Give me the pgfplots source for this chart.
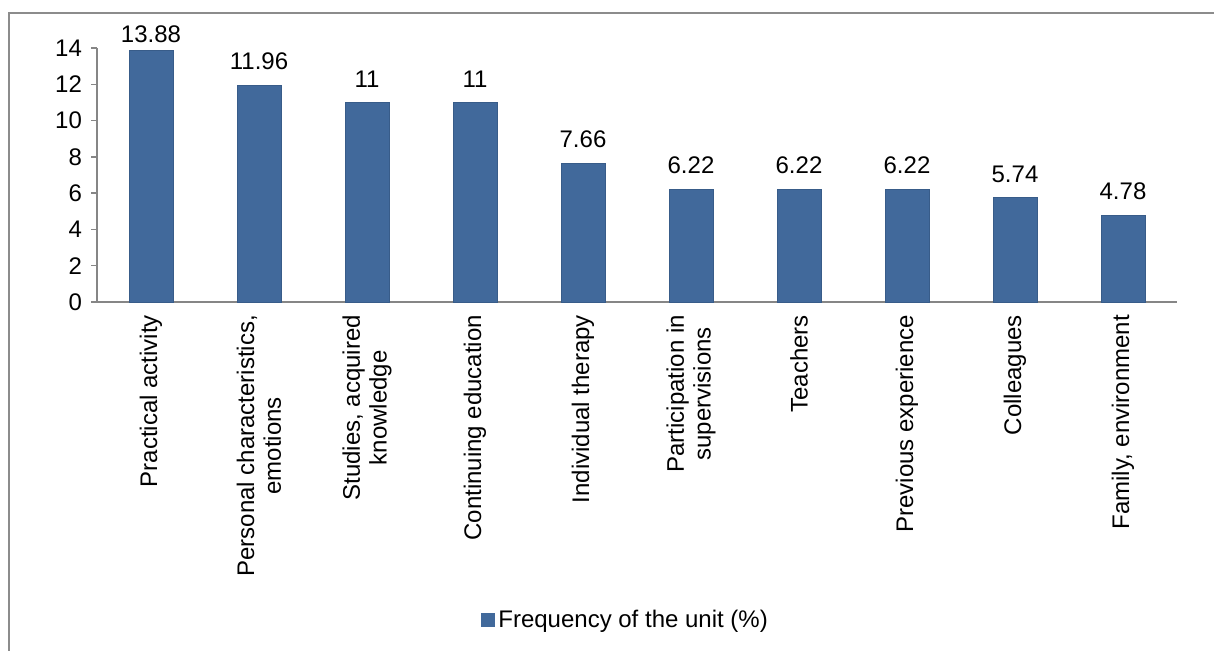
\documentclass[border=0pt]{standalone}
\usepackage{fontspec}
\setmainfont{Liberation Sans}
\usepackage{pgfplots}
\pgfplotsset{compat=1.18}

\definecolor{barblue}{RGB}{65,105,155}
\definecolor{baredge}{RGB}{56,92,137}
\definecolor{axisgray}{RGB}{134,134,134}
\definecolor{framegray}{RGB}{140,140,140}

\begin{document}
\begin{tikzpicture}
\useasboundingbox (0,0) rectangle (607pt,325pt);
% chart area frame
\draw[framegray, line width=0.6pt] (4.5pt,-20pt) -- (4.5pt,318.5pt) -- (640pt,318.5pt);
\begin{axis}[
  at={(48.5pt,174pt)}, anchor=south west,
  scale only axis,
  width=540pt, height=127pt,
  xmin=-0.5, xmax=9.5,
  ymin=0, ymax=14,
  ytick={0,2,...,14},
  xtick={0,...,9},
  xticklabels={
    Practical activity,
    {Personal characteristics,\\emotions},
    {Studies, acquired\\knowledge},
    Continuing education,
    Individual therapy,
    {Participation in\\supervisions},
    Teachers,
    Previous experience,
    Colleagues,
    {Family, environment}},
  x tick label style={rotate=90, anchor=east, align=center, font=\fontsize{12}{13.4}\selectfont},
  y tick label style={font=\fontsize{12}{14}\selectfont, xshift=-1pt},
  /pgf/number format/assume math mode=true,
  axis x line*=bottom, axis y line*=left,
  axis line style={axisgray, line width=0.7pt},
  tick style={axisgray, line width=0.7pt},
  tick align=outside,
  major tick length=3pt,
  x tick style={draw=none},
  extra x ticks={-0.5,0.5,...,9.5},
  extra x tick labels={},
  extra x tick style={tick style={draw=axisgray, line width=0.7pt}, major tick length=3pt},
  ybar, bar width=22pt, bar shift=0pt,
  nodes near coords,
  nodes near coords style={font=\fontsize{12}{14}\selectfont, /pgf/number format/assume math mode=true},
  legend style={at={(0.49,-1.252)}, anchor=center, draw=none, fill=none,
    font=\fontsize{12}{14}\selectfont, inner sep=0pt},
  legend image code/.code={\fill[barblue] (0pt,-3.3pt) rectangle (6.5pt,3.3pt);},
]
% tallest bar: its label sits close to the top of the plot
\addplot[fill=barblue, draw=baredge, line width=0.4pt] coordinates {(0,13.88)};
\addlegendentry{Frequency of the unit (\%)}
% remaining bars: labels with the usual gap above the bar
\addplot[fill=barblue, draw=baredge, line width=0.4pt, forget plot,
  nodes near coords style={yshift=4pt}] coordinates {
  (1,11.96) (2,11) (3,11) (4,7.66)
  (5,6.22) (6,6.22) (7,6.22) (8,5.74) (9,4.78)};
\end{axis}
\end{tikzpicture}
\end{document}
